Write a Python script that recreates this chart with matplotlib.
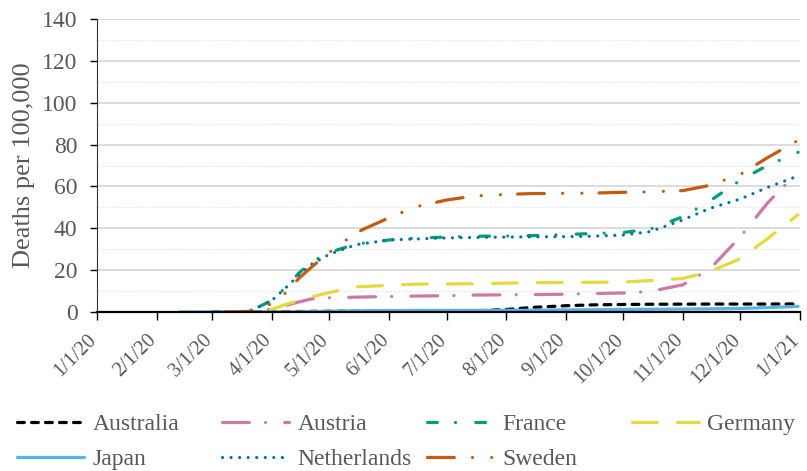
import numpy as np
import pandas as pd
import matplotlib
matplotlib.use("Agg")
import matplotlib.pyplot as plt
import matplotlib.dates as mdates
import matplotlib.transforms as mtransforms
from matplotlib.ticker import MultipleLocator

plt.rcParams['font.family'] = ['Liberation Serif', 'DejaVu Serif']
plt.rcParams['lines.scale_dashes'] = False

dates = pd.to_datetime([
    "2020-02-13", "2020-03-01", "2020-03-08", "2020-03-15", "2020-03-22",
    "2020-04-01", "2020-04-08", "2020-04-15", "2020-04-22", "2020-05-01",
    "2020-05-15", "2020-06-01", "2020-06-15", "2020-07-01", "2020-07-15",
    "2020-08-01", "2020-08-15", "2020-09-01", "2020-09-15", "2020-10-01",
    "2020-10-15", "2020-11-01", "2020-11-15", "2020-12-01", "2020-12-15",
    "2020-12-31",
])
nan = np.nan

australia = [nan, 0.0, 0.01, 0.02, 0.03, 0.1, 0.2, 0.25, 0.3, 0.35,
             0.38, 0.4, 0.4, 0.41, 0.5, 1.2, 2.2, 3.0, 3.4, 3.6,
             3.7, 3.75, 3.8, 3.8, 3.8, 3.85]
austria = [nan, nan, 0.0, 0.01, 0.1, 1.4, 3.0, 4.8, 6.3, 6.8,
           7.1, 7.4, 7.6, 7.8, 8.1, 8.2, 8.3, 8.5, 8.8, 9.1,
           9.8, 13.0, 20.5, 36.0, 52.0, 67.0]
france = [nan, 0.0, 0.01, 0.15, 1.0, 5.5, 11.5, 18.5, 24.0, 28.5,
          32.5, 34.4, 35.3, 35.8, 36.2, 36.3, 36.5, 37.0, 37.5, 38.0,
          39.6, 45.5, 53.0, 63.0, 70.0, 76.3]
germany = [nan, nan, 0.0, 0.02, 0.1, 1.3, 3.5, 5.5, 7.3, 9.3,
           12.0, 12.8, 13.3, 13.4, 13.5, 13.8, 14.0, 14.1, 14.2, 14.3,
           15.0, 16.0, 19.3, 25.5, 35.0, 46.5]
japan = [0.0, 0.005, 0.01, 0.02, 0.03, 0.05, 0.08, 0.1, 0.2, 0.35,
         0.55, 0.7, 0.75, 0.78, 0.8, 0.81, 0.87, 1.0, 1.1, 1.25,
         1.3, 1.4, 1.5, 1.7, 2.1, 2.7]
netherlands = [nan, nan, 0.02, 0.1, 1.0, 5.5, 11.3, 17.5, 23.0, 27.6,
               32.2, 34.4, 34.9, 35.4, 35.6, 35.8, 35.9, 36.0, 36.2, 36.8,
               38.4, 44.0, 49.5, 54.0, 59.5, 65.0]
sweden = [nan, nan, 0.0, 0.1, 0.4, 4.0, 9.0, 16.0, 21.7, 28.5,
          38.0, 45.0, 50.3, 53.5, 55.4, 56.2, 56.6, 56.7, 56.8, 57.2,
          57.4, 58.0, 60.5, 65.8, 73.7, 82.0]

names = ["Australia", "Austria", "France", "Germany", "Japan", "Netherlands", "Sweden"]
values = [australia, austria, france, germany, japan, netherlands, sweden]
colors = ["#000000", "#CC79A7", "#009E73", "#E6D83E", "#56B4E9", "#0072B2", "#C55A11"]

LW = 2.3  # pt
lw_px = LW / 0.72


def dash_px(*segs):
    # visible lengths in pixels -> matplotlib on/off in points (round caps)
    out = []
    for i, s in enumerate(segs):
        if i % 2 == 0:
            out.append(max(s - lw_px, 0.05) * 0.72)
        else:
            out.append((s + lw_px) * 0.72)
    return (0, tuple(out))


styles = [
    dash_px(10, 4),
    dash_px(30, 13, 0, 16),
    dash_px(13, 15, 0, 17),
    dash_px(28, 17),
    '-',
    dash_px(0, 5.3),
    dash_px(30, 15, 0, 16, 0, 14),
]

fig = plt.figure(figsize=(8.07, 4.71), dpi=100)
ax = fig.add_axes([97 / 807, 1 - 312 / 471, 703 / 807, 293 / 471])

lines = {}
for name, vals, c, ls in zip(names, values, colors, styles):
    ln, = ax.plot(dates, vals, color=c, lw=LW, linestyle=ls,
                  dash_capstyle='round', solid_capstyle='round', label=name)
    lines[name] = ln

ax.set_xlim(pd.Timestamp("2020-01-01"), pd.Timestamp("2021-01-01"))
ax.set_ylim(0, 140)
ax.yaxis.set_major_locator(MultipleLocator(20))
ax.yaxis.set_minor_locator(MultipleLocator(10))
ax.grid(axis='y', which='major', color='#d9d9d9', lw=1.3)
ax.grid(axis='y', which='minor', color='#ececec', lw=0.9, linestyle=(0, (2, 1)))
ax.set_axisbelow(True)

ax.xaxis.set_major_locator(mdates.MonthLocator())
ax.xaxis.set_major_formatter(mdates.DateFormatter('%-m/%-d/%y'))
ax.tick_params(axis='x', which='major', direction='out', length=6, width=1,
               labelsize=14.5, labelcolor='#595959', pad=12)
ax.tick_params(axis='y', which='major', direction='out', length=5, width=1,
               labelsize=17, labelcolor='#595959', pad=9)
ax.tick_params(axis='y', which='minor', length=0)
shift = mtransforms.ScaledTranslation(-3 / 100, 0, fig.dpi_scale_trans)
for lab in ax.get_xticklabels():
    lab.set_rotation(45)
    lab.set_ha('right')
    lab.set_va('center')
    lab.set_rotation_mode('anchor')
    lab.set_transform(lab.get_transform() + shift)

for s in ['top', 'right']:
    ax.spines[s].set_visible(False)
ax.spines['left'].set_color('#333333')
ax.spines['bottom'].set_color('#000000')
ax.spines['bottom'].set_linewidth(1.6)

ax.set_ylabel("Deaths per 100,000", fontsize=19, color='#595959', labelpad=5)

# legend laid out in four equal columns (row-wise order)
col_names = [["Australia", "Japan"], ["Austria", "Netherlands"], ["France", "Sweden"], ["Germany"]]
col_x = [12, 217, 422, 627]
for cx, group in zip(col_x, col_names):
    leg = fig.legend([lines[n] for n in group], group, loc='upper left',
                     bbox_to_anchor=(cx / 807, 1 - 409 / 471), frameon=False,
                     fontsize=17, handlelength=2.85, handletextpad=0.35,
                     labelspacing=0.58, borderaxespad=0, borderpad=0.2)
    for t in leg.get_texts():
        t.set_color('#595959')

fig.savefig("out.png", dpi=100)
